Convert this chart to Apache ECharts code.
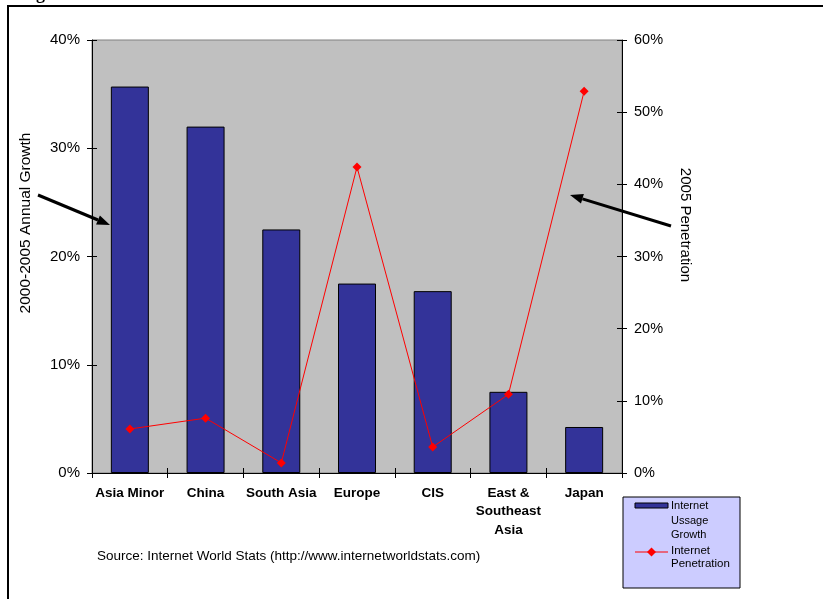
<!DOCTYPE html>
<html>
<head>
<meta charset="utf-8">
<script src="https://cdn.jsdelivr.net/npm/echarts@6/dist/echarts.min.js"></script>
<style>
  html, body { margin: 0; padding: 0; background: #fff; }
  #chart { width: 823px; height: 599px; }
</style>
</head>
<body>
<div id="chart"></div>
<script>
// Regions shown along the horizontal axis
const categories = ['Asia Minor', 'China', 'South Asia', 'Europe', 'CIS', 'East &\nSoutheast\nAsia', 'Japan'];
// 2000-2005 annual internet usage growth (left axis)
const usageGrowth = [0.357, 0.320, 0.225, 0.175, 0.168, 0.075, 0.0425];
// 2005 internet penetration (right axis)
const penetration = [0.061, 0.076, 0.014, 0.424, 0.036, 0.109, 0.529];
// Axis ranges and tick spacing
const leftAxisMax = 0.4;
const rightAxisMax = 0.6;
const tickStep = 0.1;
// Series / axis text
const seriesNames = ['Internet\nUssage\nGrowth', 'Internet\nPenetration'];
const leftAxisTitle = '2000-2005 Annual Growth';
const rightAxisTitle = '2005 Penetration';
const sourceNote = 'Source: Internet World Stats (http://www.internetworldstats.com)';

const FONT = "'Liberation Sans', Arial, sans-serif";
const pct = v => Math.round(v * 100) + '%';

// Thick black arrow: shaft plus triangular head
function arrow(x1, y1, x2, y2) {
  const ang = Math.atan2(y2 - y1, x2 - x1);
  const headLen = 13, headHalf = 5;
  const bx = x2 - headLen * Math.cos(ang), by = y2 - headLen * Math.sin(ang);
  const px = -Math.sin(ang) * headHalf, py = Math.cos(ang) * headHalf;
  return [
    { type: 'line', shape: { x1: x1, y1: y1, x2: bx, y2: by }, style: { stroke: '#000', lineWidth: 3 }, z: 10 },
    { type: 'polygon', shape: { points: [[x2, y2], [bx + px, by + py], [bx - px, by - py]] }, style: { fill: '#000' }, z: 10 }
  ];
}

const chart = echarts.init(document.getElementById('chart'));

const crossTick = { show: true, inside: true, length: 5, lineStyle: { color: '#000', width: 1 } };

const option = {
  animation: false,
  backgroundColor: '#fff',
  grid: {
    left: 92, right: 201, top: 40, bottom: 126,
    show: true, backgroundColor: '#c0c0c0', borderColor: '#808080', borderWidth: 1
  },
  xAxis: [{
    type: 'category',
    data: categories,
    axisLine: { lineStyle: { color: '#000', width: 1 } },
    axisTick: { show: true, length: 5, lineStyle: { color: '#000' } },
    axisLabel: { color: '#000', fontFamily: FONT, fontWeight: 'bold', fontSize: 13.5, margin: 11, lineHeight: 18.5, interval: 0 }
  }, {
    type: 'category',
    data: categories,
    position: 'bottom',
    axisLine: { show: false },
    axisTick: crossTick,
    axisLabel: { show: false }
  }],
  yAxis: [{
    type: 'value', min: 0, max: leftAxisMax, interval: tickStep,
    axisLine: { show: true, lineStyle: { color: '#000' } },
    axisTick: { show: true, length: 5, lineStyle: { color: '#000' } },
    axisLabel: { color: '#000', fontFamily: FONT, fontSize: 15, margin: 12, formatter: pct },
    splitLine: { show: false }
  }, {
    type: 'value', min: 0, max: rightAxisMax, interval: tickStep, position: 'right',
    axisLine: { show: true, lineStyle: { color: '#000' } },
    axisTick: { show: true, length: 5, lineStyle: { color: '#000' } },
    axisLabel: { color: '#000', fontFamily: FONT, fontSize: 14.5, margin: 12, formatter: pct },
    splitLine: { show: false }
  }, {
    type: 'value', min: 0, max: leftAxisMax, interval: tickStep, position: 'left',
    axisLine: { show: false }, axisTick: crossTick, axisLabel: { show: false }, splitLine: { show: false }
  }, {
    type: 'value', min: 0, max: rightAxisMax, interval: tickStep, position: 'right',
    axisLine: { show: false }, axisTick: crossTick, axisLabel: { show: false }, splitLine: { show: false }
  }],
  series: [{
    name: seriesNames[0],
    type: 'bar',
    data: usageGrowth,
    yAxisIndex: 0,
    barWidth: 38,
    itemStyle: { color: '#333399', borderColor: '#000', borderWidth: 1 },
    z: 2
  }, {
    name: seriesNames[1],
    type: 'line',
    data: penetration,
    yAxisIndex: 1,
    symbol: 'diamond',
    symbolSize: 9,
    lineStyle: { color: '#ff0000', width: 1 },
    itemStyle: { color: '#ff0000' },
    z: 3
  }],
  graphic: []
};

chart.setOption(option);

// Legend box drawn with the series colours
const lx = 623, ly = 497;
const legend = [
  { type: 'rect', shape: { x: lx, y: ly, width: 117, height: 91 }, style: { fill: '#ccccff', stroke: '#000', lineWidth: 1 }, z: 5 },
  { type: 'rect', shape: { x: lx + 12, y: ly + 6, width: 33, height: 5 }, style: { fill: '#333399', stroke: '#000', lineWidth: 1 }, z: 6 },
  { type: 'text', x: lx + 48, y: ly + 2, style: { text: seriesNames[0], fill: '#000', font: '11px ' + FONT, lineHeight: 14.5 }, z: 6 },
  { type: 'line', shape: { x1: lx + 12, y1: ly + 55, x2: lx + 45, y2: ly + 55 }, style: { stroke: '#ff0000', lineWidth: 1 }, z: 6 },
  { type: 'polygon', shape: { points: [[lx + 28.5, ly + 50.5], [lx + 33, ly + 55], [lx + 28.5, ly + 59.5], [lx + 24, ly + 55]] }, style: { fill: '#ff0000' }, z: 6 },
  { type: 'text', x: lx + 48, y: ly + 47, style: { text: seriesNames[1], fill: '#000', font: '11.5px ' + FONT, lineHeight: 13.5 }, z: 6 }
];

const extras = [
  // outer frame
  { type: 'rect', shape: { x: 8, y: 6, width: 830, height: 610 }, style: { fill: null, stroke: '#000', lineWidth: 2 }, z: 9 },
  // heading above the frame (mostly cropped)
  { type: 'text', x: 20, y: -15, style: { text: 'Figure', fill: '#000', font: 'bold 18px "Liberation Serif", serif' }, z: 9 },
  { type: 'text', x: 97, y: 549, style: { text: sourceNote, fill: '#000', font: '13.5px ' + FONT }, z: 6 },
  // axis titles
  { type: 'text', x: 26, y: 223, rotation: Math.PI / 2,
    style: { text: leftAxisTitle, fill: '#000', font: '15.5px ' + FONT, align: 'center', verticalAlign: 'middle' }, z: 6 },
  { type: 'text', x: 685, y: 225, rotation: -Math.PI / 2,
    style: { text: rightAxisTitle, fill: '#000', font: '15px ' + FONT, align: 'center', verticalAlign: 'middle' }, z: 6 }
].concat(arrow(38, 195, 110, 225), arrow(671, 226, 570, 195));

chart.setOption({ graphic: legend.concat(extras) });
</script>
</body>
</html>
